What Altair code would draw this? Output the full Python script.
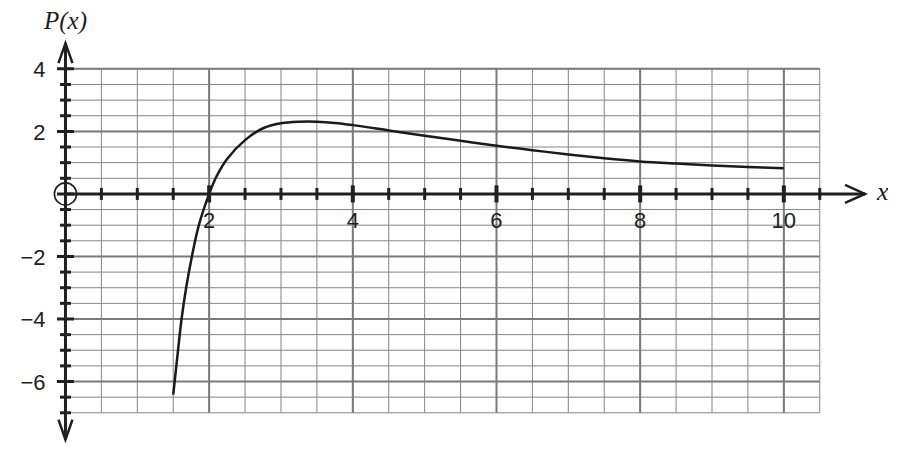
import altair as alt
import pandas as pd

# ---- data ----
curve_x = [1.5, 1.52, 1.567, 1.616, 1.68, 1.76, 1.857, 2.0, 2.1, 2.25, 2.5, 2.75,
           3.0, 3.25, 3.5, 3.75, 4.0, 4.5, 5.0, 5.5, 6.0, 6.5, 7.0, 7.5, 8.0,
           8.5, 9.0, 9.5, 10.0]
curve_y = [-6.42, -6.0, -5.0, -4.0, -3.0, -2.0, -1.0, 0.0, 0.55, 1.12, 1.72, 2.10,
           2.26, 2.31, 2.31, 2.27, 2.20, 2.03, 1.86, 1.70, 1.54, 1.40, 1.26, 1.14, 1.04,
           0.97, 0.91, 0.86, 0.82]

x_label_values = [2, 4, 6, 8, 10]
x_label_texts = ["2", "4", "6", "8", "10"]
y_label_values = [4, 2, -2, -4, -6]
y_label_texts = ["4", "2", "\u22122", "\u22124", "\u22126"]

grid_x = [i * 0.5 for i in range(0, 22)]          # 0 .. 10.5
grid_y = [-7 + i * 0.5 for i in range(0, 23)]     # -7 .. 4
major_x = [2, 4, 6, 8, 10]
major_y = [-6, -4, -2, 2, 4]
x_ticks_minor = [v for v in grid_x if v > 0 and v not in major_x]
y_ticks_minor = [v for v in grid_y if v not in major_y and v != 0]
y_ticks_major = major_y + [0]

X_MIN, X_MAX = 0, 10.5
Y_MIN, Y_MAX = -7, 4
AXIS_X_END = 11.13
AXIS_Y_TOP = 4.82
AXIS_Y_BOTTOM = -7.86

xs = alt.Scale(domain=[-0.8, 11.45], nice=False, zero=False)
ys = alt.Scale(domain=[-8.03, 5.69], nice=False, zero=False)

GRID = "#858585"
INK = "#231f20"


def X(field="x"):
    return alt.X(field, type="quantitative", scale=xs, axis=None)


def Y(field="y"):
    return alt.Y(field, type="quantitative", scale=ys, axis=None)


def X2(field="x2"):
    return alt.X2(field)


def Y2(field="y2"):
    return alt.Y2(field)


def df(**cols):
    n = max(len(v) for v in cols.values() if isinstance(v, list))
    return pd.DataFrame({k: (v if isinstance(v, list) else [v] * n) for k, v in cols.items()})


# grid
vgrid_minor = alt.Chart(df(x=grid_x, y=Y_MIN, y2=Y_MAX)).mark_rule(color=GRID, strokeWidth=1).encode(
    x=X(), y=Y(), y2=Y2())
hgrid_minor = alt.Chart(df(y=grid_y, x=X_MIN, x2=X_MAX)).mark_rule(color=GRID, strokeWidth=1).encode(
    y=Y(), x=X(), x2=X2())
vgrid_major = alt.Chart(df(x=major_x, y=Y_MIN, y2=Y_MAX)).mark_rule(color="#7a7a7a", strokeWidth=2).encode(
    x=X(), y=Y(), y2=Y2())
hgrid_major = alt.Chart(df(y=major_y, x=X_MIN, x2=X_MAX)).mark_rule(color="#7a7a7a", strokeWidth=2).encode(
    y=Y(), x=X(), x2=X2())

# axes
x_axis = alt.Chart(df(y=[0], x=0, x2=AXIS_X_END)).mark_rule(color=INK, strokeWidth=3).encode(
    y=Y(), x=X(), x2=X2())
y_axis = alt.Chart(df(x=[0], y=AXIS_Y_BOTTOM, y2=AXIS_Y_TOP)).mark_rule(color=INK, strokeWidth=3).encode(
    x=X(), y=Y(), y2=Y2())

# tick marks
xt_minor = alt.Chart(df(x=x_ticks_minor, y=0)).mark_tick(
    orient="vertical", size=12, thickness=3, color=INK, opacity=1).encode(x=X(), y=Y())
xt_major = alt.Chart(df(x=major_x, y=0)).mark_tick(
    orient="vertical", size=17, thickness=4, color=INK, opacity=1).encode(x=X(), y=Y())
yt_minor = alt.Chart(df(y=y_ticks_minor, x=0)).mark_tick(
    orient="horizontal", size=11, thickness=3, color=INK, opacity=1).encode(y=Y(), x=X())
yt_major = alt.Chart(df(y=y_ticks_major, x=0)).mark_tick(
    orient="horizontal", size=17, thickness=3, color=INK, opacity=1).encode(y=Y(), x=X())

# arrowheads
arrow_right = alt.Chart(df(x=[AXIS_X_END], y=0)).mark_point(
    shape="M -2 -0.9 L 0 0 L -2 0.9", size=400, filled=False, color=INK, strokeWidth=2.5, opacity=1
).encode(x=X(), y=Y())
arrow_up = alt.Chart(df(y=[AXIS_Y_TOP], x=0)).mark_point(
    shape="M -0.7 2 L 0 0 L 0.7 2", size=400, filled=False, color=INK, strokeWidth=2.5, opacity=1
).encode(y=Y(), x=X())
arrow_down = alt.Chart(df(y=[AXIS_Y_BOTTOM], x=0)).mark_point(
    shape="M -0.7 -2 L 0 0 L 0.7 -2", size=400, filled=False, color=INK, strokeWidth=2.5, opacity=1
).encode(y=Y(), x=X())

# origin circle
origin = alt.Chart(df(x=[0], y=0)).mark_point(
    shape="circle", size=490, filled=False, color=INK, strokeWidth=1.6, opacity=1
).encode(x=X(), y=Y())

# curve
curve = alt.Chart(pd.DataFrame({"x": curve_x, "y": curve_y})).mark_line(
    color="#1a1a1a", strokeWidth=2.5, interpolate="catmull-rom"
).encode(x=X(), y=Y(), order="x:Q")

# labels
x_labels = alt.Chart(df(x=x_label_values, t=x_label_texts, y=0)).mark_text(
    font="Liberation Sans", fontSize=22, color=INK, align="center", baseline="alphabetic", dy=34
).encode(x=X(), y=Y(), text="t:N")
y_labels = alt.Chart(df(y=y_label_values, t=y_label_texts, x=0)).mark_text(
    font="Liberation Sans", fontSize=22, color=INK, align="right", baseline="alphabetic", dx=-20, dy=8.5
).encode(y=Y(), x=X(), text="t:N")
p_label = alt.Chart(df(t=["P(x)"], x=0, y=Y_MAX)).mark_text(
    font="Liberation Serif", fontStyle="italic", fontSize=25, color=INK, align="center",
    baseline="alphabetic", dy=-40
).encode(x=X(), y=Y(), text="t:N")
x_name = alt.Chart(df(t=["x"], x=AXIS_X_END, y=0)).mark_text(
    font="Liberation Serif", fontStyle="italic", fontSize=26, color=INK, align="left",
    baseline="alphabetic", dx=12, dy=6
).encode(x=X(), y=Y(), text="t:N")

chart = alt.layer(
    vgrid_minor, hgrid_minor, vgrid_major, hgrid_major,
    curve,
    x_axis, y_axis, xt_minor, xt_major, yt_minor, yt_major,
    arrow_right, arrow_up, arrow_down, origin,
    x_labels, y_labels, p_label, x_name,
).properties(
    width=880, height=429, background="white",
    padding={"top": 8, "left": 0, "right": 0, "bottom": 0},
    autosize=alt.AutoSizeParams(type="none"),
).configure_view(stroke=None)

chart.save("out.html", embed_options={"renderer": "svg", "actions": False})
